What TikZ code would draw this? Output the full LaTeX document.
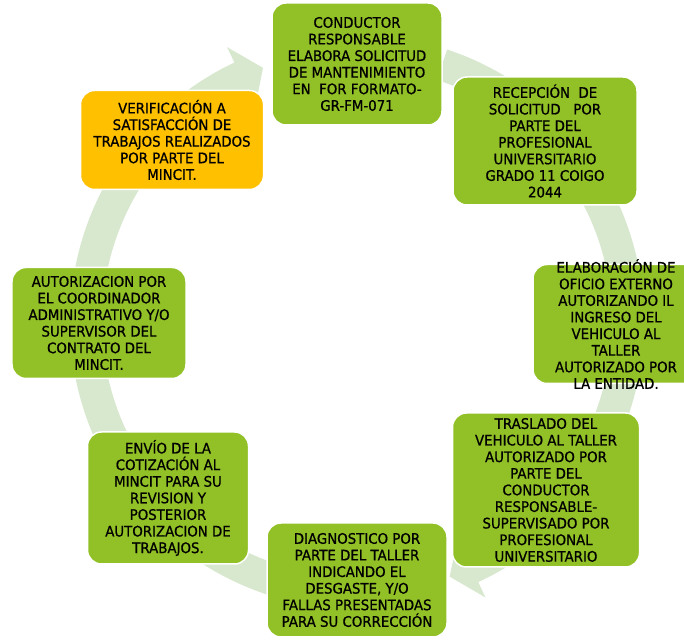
\documentclass[tikz,border=0pt]{standalone}
\usepackage{fontspec}
\setmainfont{DejaVu Sans}[FakeStretch=0.92, FakeBold=0.8]

\definecolor{verdepaso}{RGB}{145,193,38}
\definecolor{naranjapaso}{RGB}{255,192,0}
\definecolor{verdeanillo}{RGB}{216,232,206}

\tikzset{
	texto/.style={text=black, font=\fontsize{14.5bp}{16.6bp}\selectfont, align=center, inner sep=0pt},
	paso/.style={texto, rectangle, rounded corners=14bp, fill=verdepaso, draw=white, line width=1.5bp},
	pasofinal/.style={paso, fill=naranjapaso},
	anillo/.style={fill=verdeanillo}
}

\begin{document}
\begin{tikzpicture}[x=1bp, y=1bp]
	\useasboundingbox (0,0) rectangle (684,640);
	\coordinate (centro) at (357,318);
	
	% anillo de flechas (inicio / punta)
	\begin{scope}[shift={(centro)}]
		\foreach \ini/\pta in {71.7/45, 30/0, -5/-40, -45/-70, -100/-137, 220/182, 178/138, 135/110.3}{
			\pgfmathsetmacro{\atras}{\pta+5}
			\fill[anillo] (\ini:287) arc[start angle=\ini, end angle=\atras, radius=287]
				-- (\atras:304) -- (\pta:271) -- (\atras:238) -- (\atras:255)
				arc[start angle=\atras, end angle=\ini, radius=255] -- cycle;
		}
	\end{scope}
	
	\node[paso, minimum width=170bp, minimum height=122bp] (n1) at (357,576) {CONDUCTOR\\RESPONSABLE\\ELABORA SOLICITUD\\DE MANTENIMIENTO\\EN\ \ FOR FORMATO-\\GR-FM-071};
	
	\node[paso, minimum width=184bp, minimum height=128bp] (n2) at (545,499) {RECEPCIÓN\ \ DE\\SOLICITUD\ \ \ POR\\PARTE DEL\\PROFESIONAL\\UNIVERSITARIO\\GRADO 11 COIGO\\2044};
	
	\node[paso, minimum width=166bp, minimum height=119bp,
		label={[texto]center:{ELABORACIÓN DE\\OFICIO EXTERNO\\AUTORIZANDO IL\\INGRESO DEL\\VEHICULO AL\\TALLER\\AUTORIZADO POR\\LA ENTIDAD.}}] (n3) at (616,316) {};
	
	\node[paso, minimum width=187bp, minimum height=154bp] (n4) at (546,150) {TRASLADO DEL\\VEHICULO AL TALLER\\AUTORIZADO POR\\PARTE DEL\\CONDUCTOR\\RESPONSABLE-\\SUPERVISADO POR\\PROFESIONAL\\UNIVERSITARIO};
	
	\node[paso, minimum width=180bp, minimum height=114bp] (n5) at (357,60) {DIAGNOSTICO POR\\PARTE DEL TALLER\\INDICANDO EL\\DESGASTE, Y/O\\FALLAS PRESENTADAS\\PARA SU CORRECCIÓN};
	
	\node[paso, minimum width=161bp, minimum height=132bp] (n6) at (168,142) {ENVÍO DE LA\\COTIZACIÓN AL\\MINCIT PARA SU\\REVISION Y\\POSTERIOR\\AUTORIZACION DE\\TRABAJOS.};
	
	\node[paso, minimum width=174bp, minimum height=111bp] (n7) at (99,317) {AUTORIZACION POR\\EL COORDINADOR\\ADMINISTRATIVO Y/O\\SUPERVISOR DEL\\CONTRATO DEL\\MINCIT.};
	
	\node[pasofinal, minimum width=183bp, minimum height=99bp] (n8) at (172,500) {VERIFICACIÓN A\\SATISFACCIÓN DE\\TRABAJOS REALIZADOS\\POR PARTE DEL\\MINCIT.};
\end{tikzpicture}
\end{document}
